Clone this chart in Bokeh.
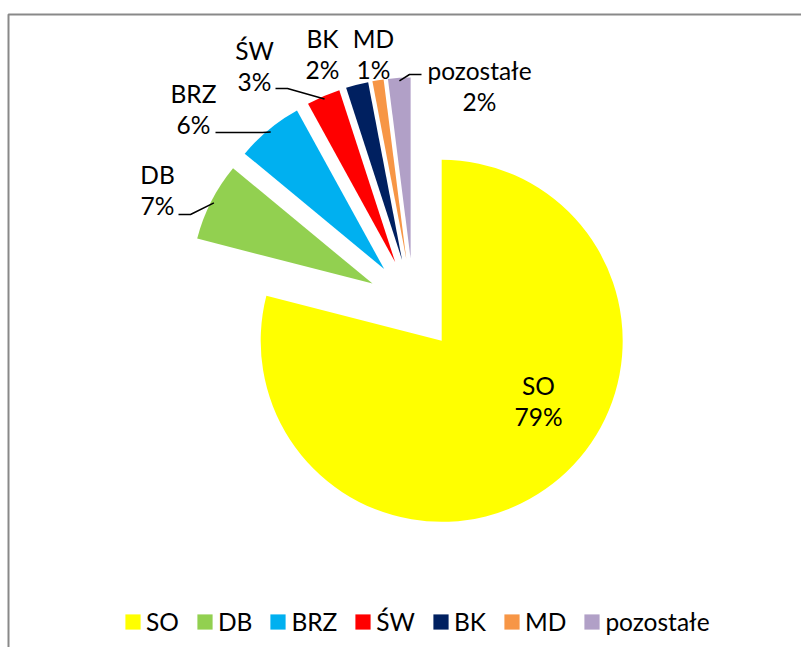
import numpy as np
from bokeh.plotting import figure
from bokeh.models import Range1d, ColumnDataSource
from bokeh.core.properties import value
from bokeh.embed import file_html
from bokeh.resources import INLINE

# ---- data ----
categories = ["SO", "DB", "BRZ", "ŚW", "BK", "MD", "pozostałe"]
shares = [79, 7, 6, 3, 2, 1, 2]
pct_labels = ["79%", "7%", "6%", "3%", "2%", "1%", "2%"]
colors = ["#FFFF00", "#92D050", "#00B0F0", "#FF0000", "#002060", "#F79646", "#B1A0C7"]

# ---- layout (picture pixels) ----
W, H = 801, 647
CX, CY = 413, 304      # pie centre in the picture
R = 181
EXPLODE = 46
FONT = "Lato"
FS = "24.5px"
LINE_GAP = 31

label_px = [538, 157, 193, 254, 322, 373, 479]
label_py = [385, 174, 93, 50, 38, 38, 70]

leader_cats = ["DB", "BRZ", "ŚW", "pozostałe"]
leader_x0 = [178, 215, 275, 421]
leader_x1 = [190, 262, 287, 409]
leader_y = [214, 132, 88, 74]


def px(x):
    return x - CX


def py(y):
    return CY - y


frac = np.array(shares, dtype=float) / sum(shares)
cum = np.concatenate([[0.0], np.cumsum(frac)])
start = np.pi / 2 - 2 * np.pi * cum[:-1]
end = np.pi / 2 - 2 * np.pi * cum[1:]
mid = (start + end) / 2

src = ColumnDataSource(dict(
    cat=categories,
    x=EXPLODE * np.cos(mid),
    y=EXPLODE * np.sin(mid),
    start=start,
    end=end,
    color=colors,
))

p = figure(width=W, height=H, output_backend="svg", toolbar_location=None,
           x_range=Range1d(px(0), px(W)), y_range=Range1d(py(H), py(0)),
           x_axis_type=None, y_axis_type=None, min_border=0,
           outline_line_color=None)
p.background_fill_color = "white"
p.border_fill_color = "white"

p.wedge(x="x", y="y", radius=R, start_angle="start", end_angle="end",
        direction="clock", fill_color="color", line_color=None,
        legend_field="cat", source=src)

# labels
lx = [px(v) for v in label_px]
ly = [py(v) for v in label_py]
p.text(x=lx, y=ly, text=categories, text_align="center", text_baseline="middle",
       text_font=value(FONT), text_font_size=value(FS), text_color="black")
p.text(x=lx, y=[v - LINE_GAP for v in ly], text=pct_labels, text_align="center",
       text_baseline="middle", text_font=value(FONT), text_font_size=value(FS),
       text_color="black")

# leader lines
xs, ys = [], []
for c, x0, x1, yy in zip(leader_cats, leader_x0, leader_x1, leader_y):
    i = categories.index(c)
    ex = EXPLODE * np.cos(mid[i]) + (R - 3) * np.cos(mid[i])
    ey = EXPLODE * np.sin(mid[i]) + (R - 3) * np.sin(mid[i])
    xs.append([px(x0), px(x1), ex])
    ys.append([py(yy), py(yy), ey])
p.multi_line(xs, ys, line_color="black", line_width=1.5)

# chart-area frame
p.line([px(8), px(8), px(W + 10)], [py(H + 10), py(14), py(14)], line_color="#898989", line_width=2)

lg = p.legend[0]
lg.orientation = "horizontal"
lg.location = (123, 11)
lg.glyph_width = 19
lg.glyph_height = 19
lg.label_standoff = 4
lg.spacing = 16
lg.padding = 0
lg.margin = 0
lg.border_line_color = None
lg.background_fill_alpha = 0
lg.label_text_font = FONT
lg.label_text_font_size = FS
lg.label_text_color = "black"

open("out.html", "w").write(file_html(p, INLINE))
